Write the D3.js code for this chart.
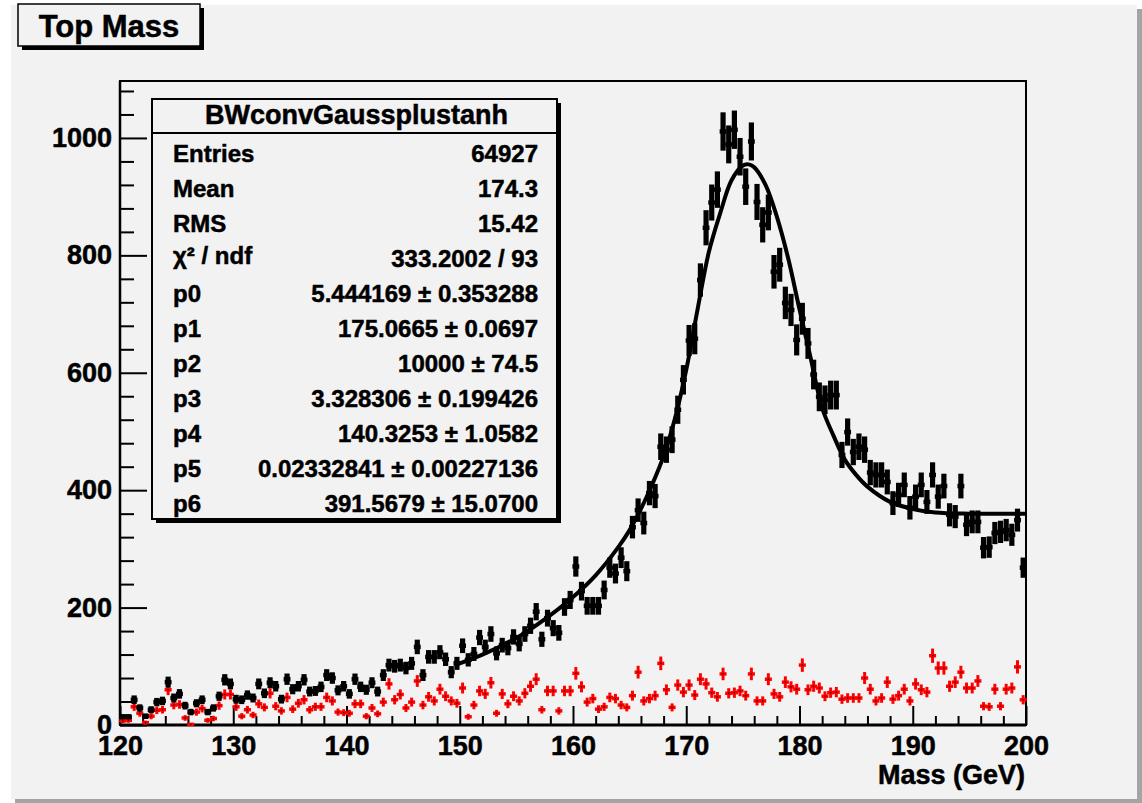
<!DOCTYPE html>
<meta charset="utf-8">
<style>
  body { margin: 0; background: #fff; }
  text { font-family: "Liberation Sans", Arial, sans-serif; font-weight: bold; stroke: #000; stroke-width: 0.5px; }
</style>
<body>
<script src="https://cdn.jsdelivr.net/npm/d3@7"></script>
<script>
  var width = 1142, height = 803;

  // histogram: 160 bins of 0.5 GeV from 120 to 200
  var binStart = 120, binWidth = 0.5;

  // all candidates (black)
  var totalCounts = [
    14, 14, 43, 29, 15, 26, 39, 41, 73, 46,
    53, 33, 22, 37, 43, 22, 29, 49, 77, 70,
    44, 43, 51, 46, 70, 54, 72, 66, 44, 78,
    61, 66, 77, 57, 58, 65, 85, 80, 59, 66,
    53, 78, 65, 60, 72, 57, 85, 102, 100, 102,
    97, 105, 133, 85, 116, 116, 124, 112, 90, 105,
    135, 111, 121, 149, 133, 155, 122, 136, 131, 150,
    138, 155, 169, 193, 146, 182, 165, 157, 201, 213,
    270, 228, 203, 203, 203, 230, 268, 258, 285, 262,
    337, 366, 344, 395, 390, 474, 469, 486, 537, 588,
    655, 658, 758, 847, 890, 912, 1011, 989, 1014, 968,
    917, 994, 891, 852, 873, 772, 784, 719, 707, 656,
    692, 650, 597, 559, 554, 562, 562, 460, 499, 465,
    474, 469, 430, 426, 426, 414, 378, 392, 409, 370,
    389, 409, 380, 426, 389, 407, 358, 355, 407, 341,
    346, 346, 302, 303, 327, 329, 332, 324, 349, 268
  ];

  // second histogram (red)
  var redCounts = [
    7, 8, 31, 20, 4, 15, 25, 26, 60, 34,
    35, 12, 1, 22, 28, 8, 11, 33, 52, 52,
    31, 15, 26, 17, 36, 30, 54, 32, 24, 47,
    27, 37, 43, 26, 31, 31, 47, 41, 22, 21,
    20, 36, 36, 15, 29, 19, 39, 70, 43, 52,
    29, 39, 75, 34, 48, 41, 61, 49, 41, 37,
    63, 14, 34, 58, 53, 72, 20, 53, 36, 49,
    41, 54, 66, 78, 26, 58, 58, 24, 58, 58,
    88, 65, 39, 45, 27, 31, 47, 45, 34, 30,
    50, 90, 41, 45, 50, 105, 60, 30, 68, 56,
    68, 51, 78, 70, 55, 48, 87, 54, 55, 58,
    50, 87, 41, 41, 78, 53, 48, 73, 65, 61,
    102, 60, 66, 63, 49, 55, 56, 44, 46, 46,
    46, 80, 61, 41, 46, 73, 44, 50, 61, 41,
    70, 60, 56, 118, 97, 97, 66, 73, 90, 63,
    63, 75, 32, 31, 61, 32, 61, 63, 99, 43
  ];

  // fit curve
  var fitMass = [150, 152, 154, 156, 158, 160, 162, 164, 165, 166, 167, 168, 169, 170, 171, 172, 173, 174, 175, 175.5,
                 176, 177, 178, 179, 180, 181, 182, 183, 184, 185, 186, 188, 190, 192, 195, 200];
  var fitValue = [105, 120, 138, 160, 187, 218, 255, 303, 332, 368, 410, 458, 522, 605, 708, 806, 872, 928, 953, 955,
                  950, 920, 866, 795, 708, 624, 540, 493, 452, 426, 406, 380, 368, 362, 360, 360];

  var statsTitle = "BWconvGaussplustanh";
  var statsNames = ["Entries", "Mean", "RMS", "\u03c7\u00b2 / ndf", "p0", "p1", "p2", "p3", "p4", "p5", "p6"];
  var statsValues = ["64927", "174.3", "15.42", "333.2002 / 93",
    "5.444169 \u00b1 0.353288", "175.0665 \u00b1 0.0697", "10000 \u00b1 74.5",
    "3.328306 \u00b1 0.199426", "140.3253 \u00b1 1.0582", "0.02332841 \u00b1 0.00227136",
    "391.5679 \u00b1 15.0700"];

  var xMajor = [120, 130, 140, 150, 160, 170, 180, 190, 200];
  var yMajor = [0, 200, 400, 600, 800, 1000];

  var svg = d3.select("body").append("svg")
      .attr("width", width)
      .attr("height", height);

  // canvas with bevel
  svg.append("rect").attr("x", 0).attr("y", 0).attr("width", width).attr("height", height).attr("fill", "#fff");
  svg.append("rect").attr("x", 15).attr("y", 9).attr("width", width - 15).attr("height", height - 9).attr("fill", "#a4a4a4");
  svg.append("rect").attr("x", 11).attr("y", 5).attr("width", 1126).attr("height", 794).attr("fill", "#f2f2f2");

  var x = d3.scaleLinear().domain([120, 200]).range([120, 1026]);
  var y = d3.scaleLinear().domain([0, 1097]).range([725, 81]);

  // frame
  svg.append("rect")
      .attr("x", x(120)).attr("y", y(1097))
      .attr("width", x(200) - x(120)).attr("height", y(0) - y(1097))
      .attr("fill", "#f2f2f2").attr("stroke", "#000").attr("stroke-width", 2);

  // axes (ticks point inward)
  var yMinor = d3.range(0, 1097, 40).filter(function(v) { return v % 200 !== 0; });
  var xMinor = d3.range(120, 200, 2).filter(function(v) { return v % 10 !== 0; });

  svg.append("g").attr("transform", "translate(" + x(120) + ",0)")
      .call(d3.axisLeft(y).tickValues(yMajor).tickSize(-27).tickPadding(8).tickFormat(d3.format("d")));
  svg.append("g").attr("transform", "translate(" + x(120) + ",0)")
      .call(d3.axisLeft(y).tickValues(yMinor).tickSize(-14).tickFormat(""));
  svg.append("g").attr("transform", "translate(0," + y(0) + ")")
      .call(d3.axisBottom(x).tickValues(xMajor).tickSize(-19).tickPadding(11).tickFormat(d3.format("d")));
  svg.append("g").attr("transform", "translate(0," + y(0) + ")")
      .call(d3.axisBottom(x).tickValues(xMinor).tickSize(-9).tickFormat(""));

  svg.selectAll(".domain").remove();
  svg.selectAll(".tick line").attr("stroke", "#000").attr("stroke-width", 2);
  svg.selectAll(".tick text").attr("fill", "#000").style("font-size", "27px")
      .style("font-family", "'Liberation Sans', Arial, sans-serif").style("font-weight", "bold");

  // thicker axis lines
  svg.append("line").attr("x1", x(120)).attr("x2", x(200)).attr("y1", y(0)).attr("y2", y(0))
      .attr("stroke", "#000").attr("stroke-width", 3);
  svg.append("line").attr("x1", x(120)).attr("x2", x(120)).attr("y1", y(0)).attr("y2", y(1097))
      .attr("stroke", "#000").attr("stroke-width", 2.5);

  svg.append("text").attr("x", 1025).attr("y", 784).attr("text-anchor", "end")
      .style("font-size", "27px").text("Mass (GeV)");

  // histogram points
  var bins = totalCounts.map(function(v, i) { return { c: binStart + (i + 0.5) * binWidth, v: v }; });
  var redBins = redCounts.map(function(v, i) { return { c: binStart + (i + 0.5) * binWidth, v: v }; });
  var hw = (x(binStart + binWidth) - x(binStart)) / 2;

  var red = svg.append("g").selectAll("g").data(redBins).enter().append("g");
  red.append("line")
      .attr("x1", function(d) { return x(d.c); }).attr("x2", function(d) { return x(d.c); })
      .attr("y1", function(d) { return y(Math.max(0, d.v - Math.sqrt(d.v))) + 0.8; })
      .attr("y2", function(d) { return y(d.v + Math.sqrt(d.v)) - 0.8; })
      .attr("stroke", "#ff0000").attr("stroke-width", 3);
  red.append("line")
      .attr("x1", function(d) { return x(d.c) - hw - 0.7; }).attr("x2", function(d) { return x(d.c) + hw + 0.7; })
      .attr("y1", function(d) { return y(d.v); }).attr("y2", function(d) { return y(d.v); })
      .attr("stroke", "#ff0000").attr("stroke-width", 3.5);
  red.append("rect")
      .attr("x", function(d) { return x(d.c) - 0.6; }).attr("y", function(d) { return y(d.v) - 0.6; })
      .attr("width", 1.2).attr("height", 1.2).attr("fill", "#000");

  var blk = svg.append("g").selectAll("g").data(bins).enter().append("g");
  blk.append("line")
      .attr("x1", function(d) { return x(d.c); }).attr("x2", function(d) { return x(d.c); })
      .attr("y1", function(d) { return y(Math.max(0, d.v - Math.sqrt(d.v))) + 0.5; })
      .attr("y2", function(d) { return y(d.v + Math.sqrt(d.v)) - 0.5; })
      .attr("stroke", "#000").attr("stroke-width", 5.2);
  blk.append("line")
      .attr("x1", function(d) { return x(d.c) - hw - 0.6; }).attr("x2", function(d) { return x(d.c) + hw + 0.6; })
      .attr("y1", function(d) { return y(d.v); }).attr("y2", function(d) { return y(d.v); })
      .attr("stroke", "#000").attr("stroke-width", 4.5);

  // fit curve
  var line = d3.line()
      .x(function(d) { return x(d[0]); })
      .y(function(d) { return y(d[1]); })
      .curve(d3.curveCatmullRom);
  svg.append("path")
      .datum(fitMass.map(function(m, i) { return [m, fitValue[i]]; }))
      .attr("d", line)
      .attr("fill", "none").attr("stroke", "#000").attr("stroke-width", 4);

  // stats box
  var sb = { x: 152, y: 99, w: 405, h: 420 };
  svg.append("rect").attr("x", sb.x + 4).attr("y", sb.y + 4).attr("width", sb.w).attr("height", sb.h).attr("fill", "#000");
  svg.append("rect").attr("x", sb.x).attr("y", sb.y).attr("width", sb.w).attr("height", sb.h)
      .attr("fill", "#f2f2f2").attr("stroke", "#000").attr("stroke-width", 2);
  svg.append("line").attr("x1", sb.x).attr("x2", sb.x + sb.w).attr("y1", 133).attr("y2", 133)
      .attr("stroke", "#000").attr("stroke-width", 2);
  svg.append("text").attr("x", sb.x + sb.w / 2 + 2).attr("y", 124).attr("text-anchor", "middle")
      .style("font-size", "27px").text(statsTitle);

  var rows = svg.append("g").selectAll("g").data(statsNames).enter().append("g")
      .attr("transform", function(d, i) { return "translate(0," + (162 + i * 35) + ")"; });
  rows.append("text").attr("x", 173).attr("y", function(d, i) { return i === 3 ? -3 : 0; })
      .style("font-size", "24px").text(function(d) { return d; });
  rows.append("text").attr("x", 538).attr("text-anchor", "end")
      .style("font-size", "24px").text(function(d, i) { return statsValues[i]; });

  // title box
  svg.append("rect").attr("x", 22).attr("y", 8).attr("width", 182).attr("height", 42).attr("fill", "#000");
  svg.append("rect").attr("x", 18).attr("y", 4).attr("width", 182).attr("height", 42)
      .attr("fill", "#f2f2f2").attr("stroke", "#000").attr("stroke-width", 1.5);
  svg.append("text").attr("x", 109).attr("y", 37).attr("text-anchor", "middle")
      .style("font-size", "31px").text("Top Mass");
</script>
</body>
